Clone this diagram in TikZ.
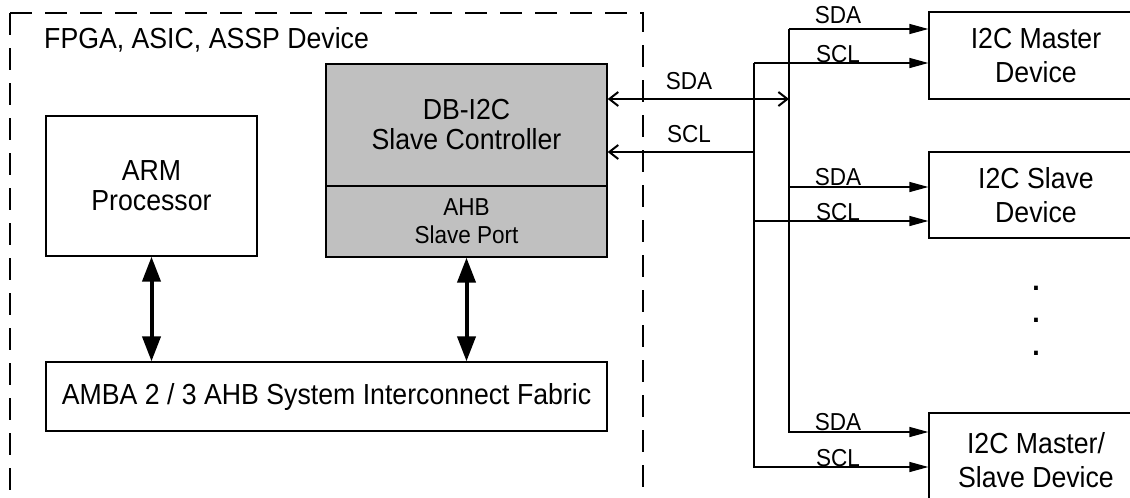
\documentclass[tikz,border=0pt]{standalone}
\usepackage{fontspec}
\setmainfont{Liberation Sans}[FakeStretch=0.92]
\usetikzlibrary{arrows.meta}
\definecolor{boxgray}{RGB}{192,192,192}

\begin{document}
\begin{tikzpicture}[x=1pt,y=-1pt,
  blk/.style={draw=black,line width=1.3pt,inner sep=0pt,align=center,font=\fontsize{29}{30}\selectfont},
  dev/.style={blk,font=\fontsize{29}{33.5}\selectfont},
  sig/.style={line width=1.4pt},
  lbl/.style={anchor=base,inner sep=0pt,font=\fontsize{24.5}{27}\selectfont},
  bus/.style={line width=4pt,{Triangle[length=25pt,width=18pt]}-{Triangle[length=25pt,width=18pt]}},
  toDev/.style={sig,-{Triangle[length=19pt,width=10pt]}},
  barb/.style={line width=2pt},
  dot/.style={inner sep=0pt,font=\fontsize{29}{30}\selectfont\bfseries}
]
\useasboundingbox (0,0) rectangle (1130,498);

% device outline
\draw[line width=1.2pt,dash pattern=on 22pt off 13pt] (10,13) -- (10,520);
\draw[line width=1.2pt,dash pattern=on 22pt off 13pt] (10,13) -- (643,13) -- (643,520);
\node[anchor=base west,inner sep=0pt,font=\fontsize{29}{30}\selectfont] (fpga) at (44,48) {FPGA, ASIC, ASSP Device};

\node[blk,minimum width=211pt,minimum height=140pt] (arm) at (151.5,186) {ARM\\Processor};
\node[blk,fill=boxgray,minimum width=281pt,minimum height=122pt] (ctrl) at (466.5,125) {DB-I2C\\Slave Controller};
\node[blk,fill=boxgray,minimum width=281pt,minimum height=71pt,font=\fontsize{24.5}{28}\selectfont] (port) at (466.5,221.5) {AHB\\Slave Port};
\node[blk,minimum width=561pt,minimum height=69pt] (fabric) at (326.5,396.5) {AMBA 2 / 3 AHB System Interconnect Fabric};

\draw[bus] (arm.south) -- (arm.south |- fabric.north);
\draw[bus] (port.south) -- (port.south |- fabric.north);

% external devices
\node[dev,minimum width=214pt,minimum height=87pt] (master) at (1036,55.5) {I2C Master\\Device};
\node[dev,minimum width=214pt,minimum height=86pt] (slave) at (1036,195) {I2C Slave\\Device};
\node[dev,minimum width=214pt,minimum height=94pt] (msl) at (1036,460) {I2C Master/\\Slave Device};

\foreach \y [count=\i] in {288,320,353}
  \node[dot] (dot\i) at (1036,\y) {.};

% I2C bus
\coordinate (sda1) at (789,29);
\coordinate (sda2) at (789,187);
\coordinate (sda3) at (789,432);
\coordinate (sdam) at (789,99);
\coordinate (scl1) at (754,63);
\coordinate (scl2) at (754,221);
\coordinate (scl3) at (754,467);
\coordinate (sclm) at (754,152);

\draw[toDev] (sda1) -- (sda3) -- (sda3 -| msl.west);
\draw[toDev] (sda1) -- (sda1 -| master.west);
\draw[toDev] (sda2) -- (sda2 -| slave.west);
\draw[toDev] (scl1) -- (scl3) -- (scl3 -| msl.west);
\draw[toDev] (scl1) -- (scl1 -| master.west);
\draw[toDev] (scl2) -- (scl2 -| slave.west);

\draw[barb,{Straight Barb[length=9pt,width=14pt]}-{Straight Barb[length=9pt,width=14pt]}] (ctrl.east |- sdam) -- (sdam);
\draw[barb,{Straight Barb[length=9pt,width=14pt]}-] (ctrl.east |- sclm) -- (sclm);

\node[lbl] (sdal1) at (838,23) {SDA};
\node[lbl] (scll1) at (838,62) {SCL};
\node[lbl] (sdal2) at (838,185) {SDA};
\node[lbl] (scll2) at (838,220) {SCL};
\node[lbl] (sdal3) at (838,430) {SDA};
\node[lbl] (scll3) at (838,466) {SCL};
\node[lbl] (sdalm) at (689,89) {SDA};
\node[lbl] (scllm) at (689,142) {SCL};

\end{tikzpicture}
\end{document}
